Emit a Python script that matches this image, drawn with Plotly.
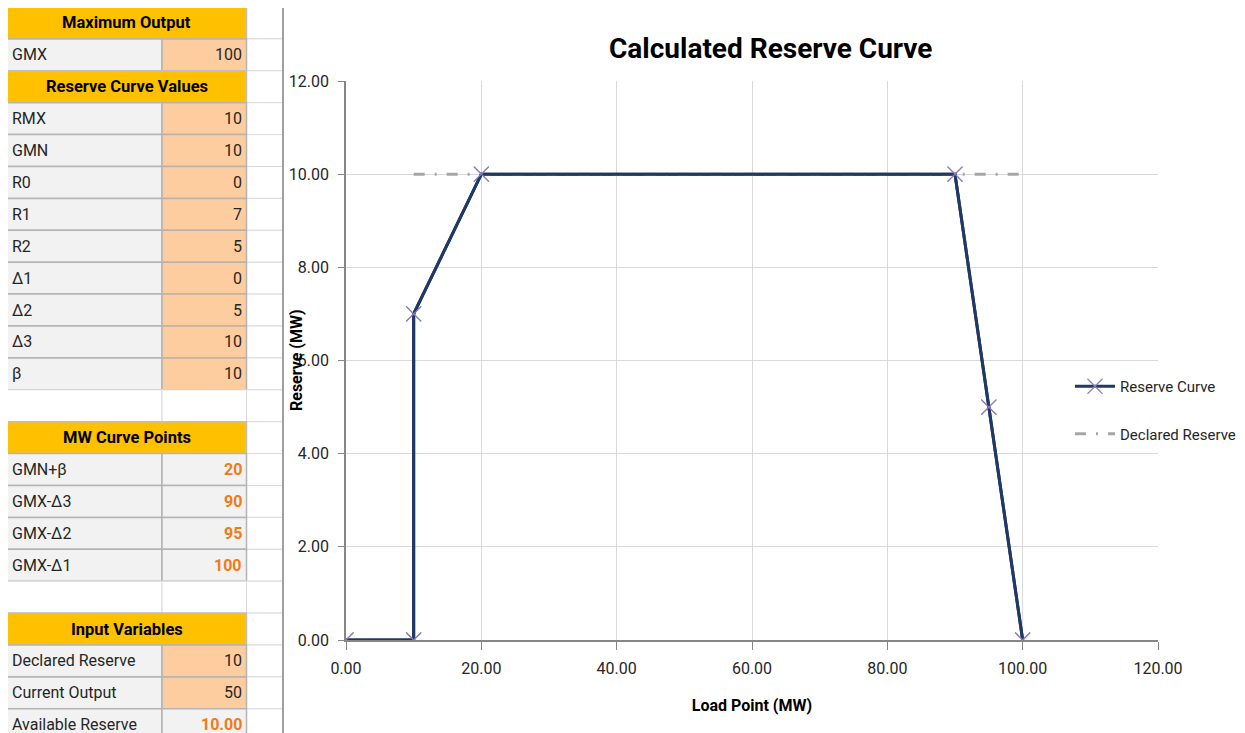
import plotly.graph_objects as go

# ---------------- data ----------------
load_points = [0, 10, 10, 20, 90, 95, 100]
reserve_curve = [0, 0, 7, 10, 10, 5, 0]
declared_x = [10, 100]
declared_y = [10, 10]

x_ticks = [0, 20, 40, 60, 80, 100, 120]
y_ticks = [0, 2, 4, 6, 8, 10, 12]

section_titles = ["Maximum Output", "Reserve Curve Values", "MW Curve Points", "Input Variables"]
max_labels = ["GMX"]
max_values = ["100"]
reserve_labels = ["RMX", "GMN", "R0", "R1", "R2", "Δ1", "Δ2", "Δ3", "β"]
reserve_values = ["10", "10", "0", "7", "5", "0", "5", "10", "10"]
mw_labels = ["GMN+β", "GMX-Δ3", "GMX-Δ2", "GMX-Δ1"]
mw_values = ["20", "90", "95", "100"]
input_labels = ["Declared Reserve", "Current Output", "Available Reserve"]
input_values = ["10", "50", "10.00"]
input_kinds = ["input", "input", "calc"]

# the page body has an 8px default margin: size the figure so it ends at the window edge
OFF = 8
W, H = 1245 - OFF, 733 - OFF
FONT = "Roboto, sans-serif"

def px(x):
    return (x - OFF) / W

def py(y):
    return 1 - (y - OFF) / H

# build table rows
rows = []
rows.append(("header", section_titles[0], ""))
rows += [("input", l, v) for l, v in zip(max_labels, max_values)]
rows.append(("header", section_titles[1], ""))
rows += [("input", l, v) for l, v in zip(reserve_labels, reserve_values)]
rows.append(("blank", "", ""))
rows.append(("header", section_titles[2], ""))
rows += [("calc", l, v) for l, v in zip(mw_labels, mw_values)]
rows.append(("blank", "", ""))
rows.append(("header", section_titles[3], ""))
rows += [(k, l, v) for k, l, v in zip(input_kinds, input_labels, input_values)]

fig = go.Figure()

marker_style = dict(symbol="x-thin", size=15, line=dict(color="#8F80B8", width=1.2), color="#8F80B8")

fig.add_trace(go.Scatter(
    x=load_points, y=reserve_curve, mode="lines+markers", name="Reserve Curve",
    legendgroup="a",
    line=dict(color="#1F3864", width=3),
    marker=marker_style,
))
fig.add_trace(go.Scatter(
    x=declared_x, y=declared_y, mode="lines", name="Declared Reserve",
    legendgroup="b",
    line=dict(color="#A6A6A6", width=3, dash="11px,10px,2px,10px"),
))
# draw the reserve curve again on top so it hides the declared line beneath
fig.add_trace(go.Scatter(
    x=load_points, y=reserve_curve, mode="lines+markers", showlegend=False,
    line=dict(color="#1F3864", width=3), hoverinfo="skip",
    marker=marker_style,
))

shapes = []
annotations = []
X0, X1, X2, X3 = 7, 162, 246.5, 283
Y0, RH = 7, 31.9
for i, (kind, label, value) in enumerate(rows):
    top = Y0 + i * RH
    bot = top + RH
    # third (empty) column
    shapes.append(dict(type="rect", xref="paper", yref="paper", x0=px(X2), x1=px(X3),
                       y0=py(bot), y1=py(top), fillcolor="white",
                       line=dict(color="#DADADA", width=1), layer="below"))
    if kind == "header":
        shapes.append(dict(type="rect", xref="paper", yref="paper", x0=px(X0), x1=px(X2),
                           y0=py(bot), y1=py(top), fillcolor="#FFC000",
                           line=dict(color="#BFBFBF", width=1.5), layer="below"))
        annotations.append(dict(xref="paper", yref="paper", x=px((X0 + X2) / 2), y=py(top + RH / 2),
                                text="<b>%s</b>" % label, showarrow=False, xanchor="center", yanchor="middle",
                                font=dict(family=FONT, size=16.5, color="#000000")))
    elif kind == "blank":
        for a, b in ((X0, X1), (X1, X2)):
            shapes.append(dict(type="rect", xref="paper", yref="paper", x0=px(a), x1=px(b),
                               y0=py(bot), y1=py(top), fillcolor="white",
                               line=dict(color="#DADADA", width=1), layer="below"))
    else:
        vfill = "#FDCDA0" if kind == "input" else "#F2F2F2"
        shapes.append(dict(type="rect", xref="paper", yref="paper", x0=px(X0), x1=px(X1),
                           y0=py(bot), y1=py(top), fillcolor="#F2F2F2",
                           line=dict(color="#B4B4B4", width=1.5), layer="below"))
        shapes.append(dict(type="rect", xref="paper", yref="paper", x0=px(X1), x1=px(X2),
                           y0=py(bot), y1=py(top), fillcolor=vfill,
                           line=dict(color="#B4B4B4", width=1.5), layer="below"))
        annotations.append(dict(xref="paper", yref="paper", x=px(X0 + 3), y=py(top + RH / 2),
                                text=label, showarrow=False, xanchor="left", yanchor="middle",
                                font=dict(family=FONT, size=16, color="#262626")))
        vtext = value if kind == "input" else "<b>%s</b>" % value
        vcol = "#262626" if kind == "input" else "#F07A1A"
        annotations.append(dict(xref="paper", yref="paper", x=px(X2 - 3), y=py(top + RH / 2),
                                text=vtext, showarrow=False, xanchor="right", yanchor="middle",
                                font=dict(family=FONT, size=16, color=vcol)))

shapes.append(dict(type="line", xref="paper", yref="paper", x0=px(X3), x1=px(X3), y0=0, y1=1,
                   line=dict(color="#A0A0A0", width=2), layer="below"))

annotations.append(dict(xref="paper", yref="paper", x=px(770), y=py(48),
                        text="<b>Calculated Reserve Curve</b>", showarrow=False,
                        xanchor="center", yanchor="middle",
                        font=dict(family=FONT, size=28, color="#000000")))
# y-axis title (overlaps the tick labels as in the original)
annotations.append(dict(xref="paper", yref="paper", x=px(297), y=py(360),
                        text="<b>Reserve (MW)</b>", showarrow=False, textangle=-90,
                        xanchor="center", yanchor="middle",
                        font=dict(family=FONT, size=16, color="#000000")))

fig.update_layout(
    width=W, height=H,
    margin=dict(l=0, r=0, t=0, b=0, autoexpand=False),
    paper_bgcolor="white", plot_bgcolor="white",
    shapes=shapes, annotations=annotations,
    font=dict(family=FONT, size=16, color="#262626"),
    showlegend=True,
    legend=dict(x=px(1070), y=py(370), xanchor="left", yanchor="top",
                font=dict(family=FONT, size=15, color="#262626"),
                traceorder="grouped", tracegroupgap=25, itemwidth=40,
                bgcolor="rgba(0,0,0,0)"),
    xaxis=dict(domain=[px(346), px(1158)], range=[0, 120], tickvals=x_ticks,
               tickformat=".2f", showgrid=True, gridcolor="#D9D9D9", gridwidth=1,
               showline=True, linecolor="#868686", linewidth=1.5,
               ticks="outside", ticklen=8, tickcolor="#868686", automargin=False,
               ticklabelstandoff=5,
               zeroline=False, tickfont=dict(size=16, color="#262626"),
               title=dict(text="<b>Load Point (MW)</b>", font=dict(size=16, color="#000000"), standoff=23)),
    yaxis=dict(domain=[py(640), py(81)], range=[0, 12], tickvals=y_ticks,
               tickformat=".2f", showgrid=True, gridcolor="#D9D9D9", gridwidth=1,
               showline=True, linecolor="#868686", linewidth=1.5,
               ticks="outside", ticklen=6, tickcolor="#868686", automargin=False,
               ticklabelstandoff=6,
               zeroline=False, tickfont=dict(size=16, color="#262626")),
)

fig.write_html("out.html")
